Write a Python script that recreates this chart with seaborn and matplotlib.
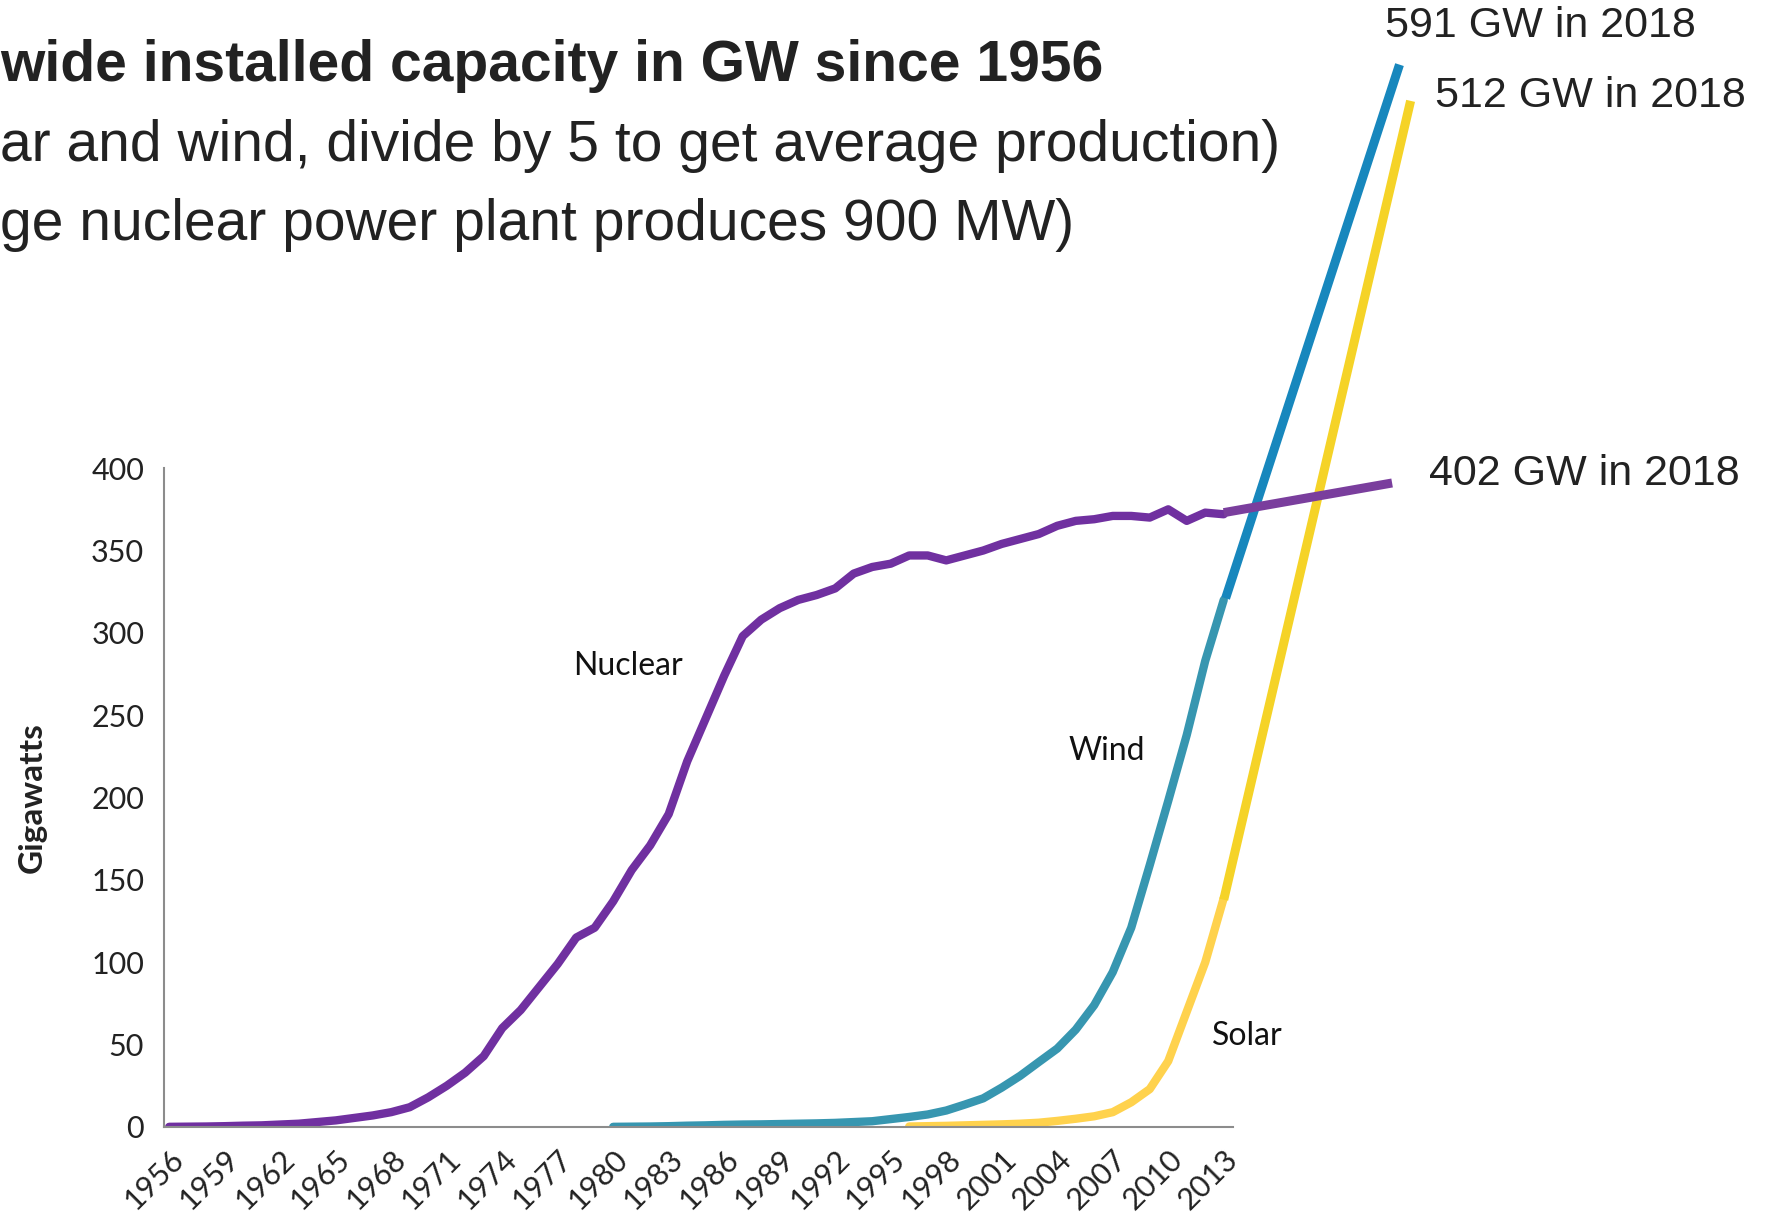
import matplotlib
matplotlib.use("Agg")
import matplotlib.pyplot as plt
import pandas as pd
import seaborn as sns

# ---- data ----
nuclear_years = list(range(1956, 2014))
nuclear_gw = [0.1, 0.2, 0.3, 0.5, 0.8, 1.0, 1.5, 2.0, 3.0, 4.0,
              5.5, 7.0, 9.0, 12, 18, 25, 33, 43, 60, 71,
              85, 99, 115, 121, 137, 156, 171, 190, 222, 248,
              274, 298, 308, 315, 320, 323, 327, 336, 340, 342,
              347, 347, 344, 347, 350, 354, 357, 360, 365, 368,
              369, 371, 371, 370, 375, 368, 373, 372]

wind_years = list(range(1980, 2014))
wind_gw = [0.1, 0.2, 0.3, 0.5, 0.8, 1.0, 1.3, 1.5, 1.6, 1.8,
           2.0, 2.2, 2.5, 3.0, 3.5, 4.8, 6.1, 7.6, 10, 13.6,
           17.4, 23.9, 31.1, 39.4, 47.6, 59.1, 74, 94, 121, 159,
           198, 238, 283, 320]

solar_years = list(range(1996, 2014))
solar_gw = [0.3, 0.5, 0.7, 1.0, 1.3, 1.6, 2.0, 2.6, 3.7, 5.0,
            6.5, 9.0, 15, 23, 40, 70, 100, 139]

# hand-drawn 2018 extensions (not to scale in the original)
wind_ext_x = [2013.1, 2022.5]
wind_ext_y = [321, 645]
solar_ext_x = [2013.0, 2023.1]
solar_ext_y = [138, 623]
nuclear_ext_x = [2013.0, 2022.1]
nuclear_ext_y = [373, 391]

ext_labels = ["591 GW in 2018", "512 GW in 2018", "402 GW in 2018"]
title_lines = ["wide installed capacity in GW since 1956",
               "ar and wind, divide by 5 to get average production)",
               "ge nuclear power plant produces 900 MW)"]
tick_years = list(range(1956, 2014, 3))

NUC = "#7030a0"
WIND = "#3796b0"
SOLAR = "#ffd24d"
NUC_EXT = "#7a3e9d"
WIND_EXT = "#1787bd"
SOLAR_EXT = "#f5d327"

sns.set_style("white")
plt.rcParams["font.family"] = ["Lato", "DejaVu Sans"]

fig = plt.figure(figsize=(17.69, 12.16), dpi=100)
ax = fig.add_axes([0.0925, 0.0732, 0.6045, 0.5418])

df_n = pd.DataFrame({"year": nuclear_years, "gw": nuclear_gw})
df_w = pd.DataFrame({"year": wind_years, "gw": wind_gw})
df_s = pd.DataFrame({"year": solar_years, "gw": solar_gw})

sns.lineplot(data=df_n, x="year", y="gw", color=NUC, lw=6, ax=ax)
sns.lineplot(data=df_w, x="year", y="gw", color=WIND, lw=6, ax=ax)
sns.lineplot(data=df_s, x="year", y="gw", color=SOLAR, lw=6, ax=ax)

ax.plot(wind_ext_x, wind_ext_y, color=WIND_EXT, lw=6.5, clip_on=False, solid_capstyle="butt")
ax.plot(solar_ext_x, solar_ext_y, color=SOLAR_EXT, lw=6.5, clip_on=False, solid_capstyle="butt")
ax.plot(nuclear_ext_x, nuclear_ext_y, color=NUC_EXT, lw=6.5, clip_on=False, solid_capstyle="butt")

ax.set_xlim(1955.7, 2013.5)
ax.set_ylim(0, 400)
ax.set_yticks(range(0, 401, 50))
ax.set_xticks(tick_years)
ax.tick_params(axis="y", labelsize=22, length=0, pad=14, colors="#222222")
ax.tick_params(axis="x", labelsize=22, length=0, pad=13, colors="#222222")
for lab in ax.get_xticklabels():
    lab.set_rotation(45)
    lab.set_ha("right")
    lab.set_rotation_mode("anchor")

ax.set_xlabel("")
ax.set_ylabel("Gigawatts", fontsize=24, fontweight="bold", labelpad=32, color="#222222")
sns.despine(ax=ax)
for side in ["left", "bottom"]:
    ax.spines[side].set_color("#8c8c8c")
    ax.spines[side].set_linewidth(1.5)

# series labels
ax.text(1980.8, 280, "Nuclear", fontsize=23, ha="center", va="center", color="#111111")
ax.text(2006.7, 228, "Wind", fontsize=23, ha="center", va="center", color="#111111")
ax.text(2014.3, 55, "Solar", fontsize=23, ha="center", va="center", color="#111111")

# 2018 annotations (figure pixel positions)
W, H = 1769, 1216
txt = dict(fontsize=31, color="#222222", family=["Liberation Sans", "DejaVu Sans"], va="center")
fig.text(1385 / W, 1 - 26 / H, ext_labels[0], **txt)
fig.text(1435 / W, 1 - 96 / H, ext_labels[1], **txt)
fig.text(1429 / W, 1 - 474 / H, ext_labels[2], **txt)

# title block, cut off at the left edge as in the reference
ttl = dict(color="#222222", family=["Liberation Sans", "DejaVu Sans"], va="center", ha="left")
fig.text(0.0, 1 - 66 / H, title_lines[0], fontsize=41, fontweight="bold", **ttl)
fig.text(0.0, 1 - 146 / H, title_lines[1], fontsize=41, **ttl)
fig.text(0.0, 1 - 225 / H, title_lines[2], fontsize=41, **ttl)

fig.savefig("out.png", dpi=100, facecolor="white")
